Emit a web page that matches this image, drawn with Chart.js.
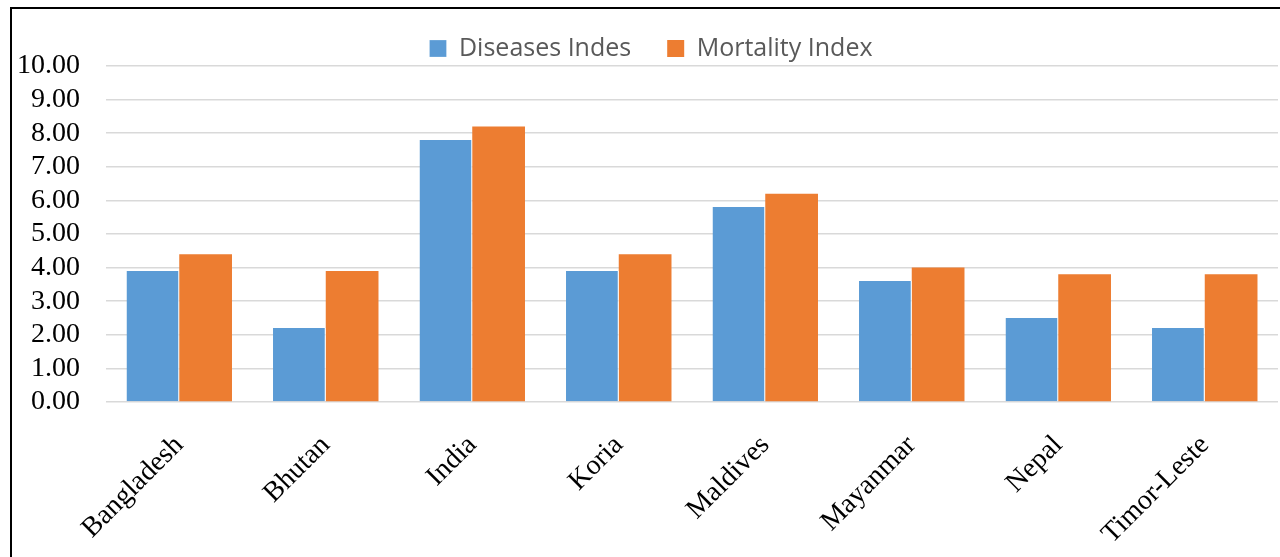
<!DOCTYPE html>
<html>
<head>
<meta charset="utf-8">
<script src="https://cdn.jsdelivr.net/npm/chart.js@4"></script>
<style>
  html, body { margin: 0; padding: 0; background: #fff; overflow: hidden; }
  #wrap { position: absolute; left: 0; top: 0; width: 1280px; height: 557px; }
  #frame { position: absolute; left: 10px; top: 7px; width: 1300px; height: 600px;
           border: 2px solid #000; box-sizing: border-box; pointer-events: none; }
</style>
</head>
<body>
<div id="wrap">
  <canvas id="barChart" width="1280" height="557"></canvas>
  <div id="frame"></div>
</div>
<script>
// data kategori dan nilai tiap seri
const countries = ['Bangladesh', 'Bhutan', 'India', 'Koria', 'Maldives', 'Mayanmar', 'Nepal', 'Timor-Leste'];
const diseasesIndex = [3.9, 2.2, 7.8, 3.9, 5.8, 3.6, 2.5, 2.2];
const mortalityIndex = [4.4, 3.9, 8.2, 4.4, 6.2, 4.0, 3.8, 3.8];
const yTicks = [0, 1, 2, 3, 4, 5, 6, 7, 8, 9, 10];

const serif = "'Liberation Serif', 'Times New Roman', serif";

// geser legend sedikit ke kanan biar pas di tengah kayak gambar asli
const legendShift = {
    id: 'legendShift',
    afterLayout(chart) {
        if (chart.legend) {
            chart.legend.left += 12;
            chart.legend.right += 12;
        }
    }
};

let ctx = document.getElementById('barChart').getContext('2d');

new Chart(ctx, {
    type: 'bar',
    data: {
        labels: countries,
        datasets: [{
            label: 'Diseases Indes',
            data: diseasesIndex,
            backgroundColor: '#5B9BD5',
            borderColor: '#ffffff',
            borderWidth: { left: 0, right: 1, top: 0, bottom: 0 },
            categoryPercentage: 0.72,
            barPercentage: 1.0
        }, {
            label: 'Mortality Index',
            data: mortalityIndex,
            backgroundColor: '#ED7D31',
            borderColor: '#ffffff',
            borderWidth: 0,
            categoryPercentage: 0.72,
            barPercentage: 1.0
        }]
    },
    options: {
        responsive: false,
        animation: false,
        layout: {
            padding: { left: 0, right: 2, top: 0, bottom: 0 }
        },
        plugins: {
            legend: {
                display: true,
                position: 'top',
                maxHeight: 66,
                labels: {
                    boxWidth: 17,
                    boxHeight: 17,
                    padding: 36,
                    color: '#595959',
                    font: { family: "'Open Sans', sans-serif", size: 25 }
                }
            },
            tooltip: { enabled: false }
        },
        scales: {
            x: {
                grid: { display: false, drawTicks: false },
                border: { display: false },
                ticks: {
                    color: '#000',
                    font: { family: serif, size: 28 },
                    minRotation: 45,
                    maxRotation: 45,
                    padding: 27
                },
                afterFit: scale => { scale.height = 155; }
            },
            y: {
                min: 0,
                max: 10,
                afterBuildTicks: scale => {
                    scale.ticks = yTicks.map(v => ({ value: v }));
                },
                grid: { color: '#D9D9D9', lineWidth: 1.5, drawTicks: false },
                border: { display: false },
                ticks: {
                    autoSkip: false,
                    color: '#000',
                    font: { family: serif, size: 28 },
                    padding: 26,
                    callback: v => Number(v).toFixed(2)
                },
                afterFit: scale => { scale.width = 106; }
            }
        }
    },
    plugins: [legendShift]
});
</script>
</body>
</html>
